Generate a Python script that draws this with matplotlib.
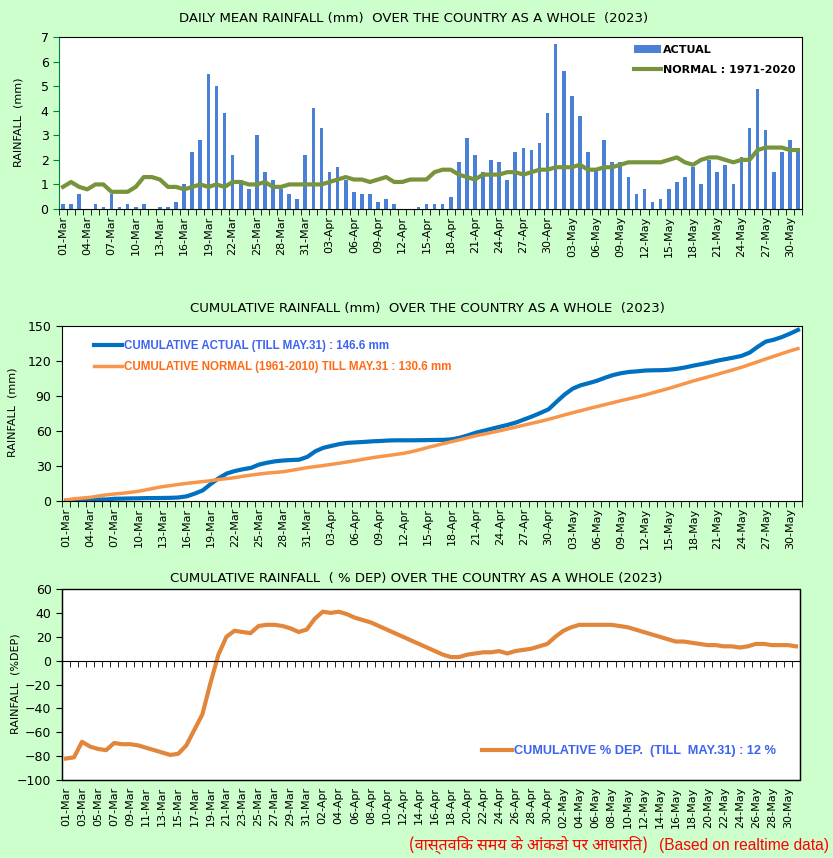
import numpy as np
import pandas as pd
import matplotlib
matplotlib.use("Agg")
import matplotlib.pyplot as plt
from matplotlib.patches import Rectangle

# 01-Mar to 31-May 2023 (92 days)
days = pd.date_range("2023-03-01", "2023-05-31", freq="D").strftime("%d-%b").tolist()

# daily mean rainfall (mm)
actual_daily = [
    0.2, 0.2, 0.6, 0.0, 0.2, 0.1, 0.6, 0.1, 0.2, 0.1,
    0.2, 0.0, 0.1, 0.1, 0.3, 1.0, 2.3, 2.8, 5.5, 5.0,
    3.9, 2.2, 1.2, 0.8, 3.0, 1.5, 1.2, 0.8, 0.6, 0.4, 2.2,
    4.1, 3.3, 1.5, 1.7, 1.2, 0.7, 0.6, 0.6, 0.3, 0.4,
    0.2, 0.0, 0.0, 0.1, 0.2, 0.2, 0.2, 0.5, 1.9, 2.9,
    2.2, 1.5, 2.0, 1.9, 1.2, 2.3, 2.5, 2.4, 2.7, 3.9,
    6.7, 5.6, 4.6, 3.8, 2.3, 1.6, 2.8, 1.9, 1.9, 1.3,
    0.6, 0.8, 0.3, 0.4, 0.8, 1.1, 1.3, 1.7, 1.0, 2.0,
    1.5, 1.8, 1.0, 2.1, 3.3, 4.9, 3.2, 1.5, 2.3, 2.8, 2.5,
]
normal_daily = [
    0.9, 1.1, 0.9, 0.8, 1.0, 1.0, 0.7, 0.7, 0.7, 0.9,
    1.3, 1.3, 1.2, 0.9, 0.9, 0.8, 0.9, 1.0, 0.9, 1.0,
    0.9, 1.1, 1.1, 1.0, 1.0, 1.1, 0.9, 0.9, 1.0, 1.0, 1.0,
    1.0, 1.0, 1.1, 1.2, 1.3, 1.2, 1.2, 1.1, 1.2, 1.3,
    1.1, 1.1, 1.2, 1.2, 1.2, 1.5, 1.6, 1.6, 1.4, 1.3,
    1.2, 1.4, 1.4, 1.4, 1.5, 1.5, 1.4, 1.5, 1.6, 1.6,
    1.7, 1.7, 1.7, 1.8, 1.6, 1.6, 1.7, 1.7, 1.8, 1.9,
    1.9, 1.9, 1.9, 1.9, 2.0, 2.1, 1.9, 1.8, 2.0, 2.1,
    2.1, 2.0, 1.9, 2.0, 2.0, 2.4, 2.5, 2.5, 2.5, 2.4, 2.4,
]

# cumulative rainfall (mm)
cum_actual = [
    0.2, 0.4, 1.0, 1.0, 1.2, 1.3, 1.9, 2.0, 2.2, 2.3,
    2.5, 2.5, 2.6, 2.7, 3.0, 4.0, 6.3, 9.1, 14.6, 19.6,
    23.6, 25.7, 27.2, 28.4, 31.2, 32.8, 34.0, 34.7, 35.1, 35.4, 37.8,
    42.6, 45.6, 47.2, 48.8, 49.8, 50.2, 50.6, 51.1, 51.4, 51.8,
    52.0, 52.0, 52.0, 52.1, 52.2, 52.3, 52.4, 52.9, 54.3, 56.3,
    58.6, 60.3, 62.0, 63.7, 65.4, 67.4, 70.0, 72.6, 75.5, 78.6,
    85.1, 91.3, 96.3, 99.2, 101.0, 103.0, 105.6, 107.9, 109.5, 110.6,
    111.1, 111.8, 112.0, 112.1, 112.5, 113.3, 114.5, 116.0, 117.3, 118.7,
    120.3, 121.6, 122.9, 124.4, 127.2, 132.2, 136.6, 138.2, 140.5, 143.4, 146.6,
]
cum_normal = [
    0.9, 1.9, 2.5, 3.1, 4.2, 5.2, 6.0, 6.6, 7.4, 8.3,
    9.6, 11.0, 12.3, 13.2, 14.2, 15.1, 15.9, 16.6, 17.4, 18.4,
    19.2, 20.0, 21.2, 22.2, 23.1, 23.9, 24.5, 25.1, 26.2, 27.4, 28.6,
    29.5, 30.4, 31.4, 32.4, 33.5, 34.6, 35.8, 37.0, 38.0, 38.9,
    39.9, 40.9, 42.3, 44.0, 45.9, 47.6, 49.3, 50.9, 52.6, 54.3,
    56.0, 57.4, 58.8, 60.3, 61.9, 63.5, 65.1, 66.7, 68.3, 70.0,
    71.9, 73.8, 75.7, 77.4, 79.2, 80.9, 82.6, 84.3, 86.0, 87.6,
    89.2, 90.9, 92.8, 94.7, 96.6, 98.7, 100.8, 102.9, 104.8, 106.7,
    108.6, 110.6, 112.6, 114.6, 117.0, 119.3, 121.7, 124.0, 126.3, 128.6, 130.6,
]

# cumulative % departure
cum_dep = [
    -82, -81, -68, -72, -74, -75, -69, -70, -70, -71,
    -73, -75, -77, -79, -78, -71, -58, -45, -19, 5,
    20, 25, 24, 23, 29, 30, 30, 29, 27, 24, 26,
    35, 41, 40, 41, 39, 36, 34, 32, 29, 26,
    23, 20, 17, 14, 11, 8, 5, 3, 3, 5,
    6, 7, 7, 8, 6, 8, 9, 10, 12, 14,
    20, 25, 28, 30, 30, 30, 30, 30, 29, 28,
    26, 24, 22, 20, 18, 16, 16, 15, 14, 13,
    13, 12, 12, 11, 12, 14, 14, 13, 13, 13, 12,
]

BG = "#ccffcc"
FONT = "DejaVu Sans"
x = np.arange(len(days))

fig = plt.figure(figsize=(8.33, 8.58), dpi=100, facecolor=BG)


def style_x(ax, step):
    ax.set_xlim(-0.5, len(days) - 0.5)
    ax.set_xticks(x[::step])
    ax.set_xticklabels(days[::step], rotation=90, fontsize=8, family=FONT)
    ax.set_xticks(np.arange(-0.5, len(days)), minor=True)
    ax.tick_params(axis="x", which="major", length=0, pad=5)


# ---- daily mean rainfall
ax1 = fig.add_axes([0.0708, 0.7564, 0.892, 0.2005])
bars = ax1.bar(x, actual_daily, width=0.45, color="#4a80d6", label="ACTUAL", zorder=2)
line, = ax1.plot(x, normal_daily, color="#77933c", lw=3, label="NORMAL : 1971-2020", zorder=3)
style_x(ax1, 3)
ax1.tick_params(axis="x", which="minor", length=4, direction="out")
ax1.set_ylim(0, 7)
ax1.set_yticks(range(0, 8))
ax1.spines["left"].set_color("#00803a")
ax1.tick_params(axis="y", colors="#00803a", labelcolor="black", length=4, labelsize=9)
ax1.legend([bars, line], ["ACTUAL", "NORMAL : 1971-2020"],
           loc="center left", bbox_to_anchor=(0.767, 0.866), frameon=False,
           handlelength=2.4, handletextpad=0.2, labelspacing=0.95, borderpad=0,
           prop={"family": FONT, "weight": "bold", "size": 8})
fig.text(0.4964, 0.979, "DAILY MEAN RAINFALL (mm)  OVER THE COUNTRY AS A WHOLE  (2023)",
         ha="center", va="center", fontsize=9.5, family=FONT)
fig.text(0.022, 0.857, "RAINFALL  (mm)", rotation=90, ha="center", va="center",
         fontsize=8, family=FONT)

# ---- cumulative rainfall
ax2 = fig.add_axes([0.0744, 0.4161, 0.8884, 0.204])
ax2.plot(x, cum_actual, color="#0070c0", lw=3,
         label="CUMULATIVE ACTUAL (TILL MAY.31) : 146.6 mm")
ax2.plot(x, cum_normal, color="#f7964a", lw=2.5,
         label="CUMULATIVE NORMAL (1961-2010) TILL MAY.31 : 130.6 mm")
style_x(ax2, 3)
ax2.tick_params(axis="x", which="minor", length=4, direction="out")
ax2.set_ylim(0, 150)
ax2.set_yticks(range(0, 151, 30))
ax2.tick_params(axis="y", length=4, labelsize=9)
leg2 = ax2.legend(loc="upper left", bbox_to_anchor=(0.035, 0.955), frameon=False,
                  handlelength=2.5, handletextpad=0.1, labelspacing=0.85, borderpad=0,
                  prop={"family": "Liberation Sans", "weight": "bold", "size": 8.3})
for t, c in zip(leg2.get_texts(), ["#3d63f0", "#ff6a13"]):
    t.set_color(c)
fig.text(0.5126, 0.641, "CUMULATIVE RAINFALL (mm)  OVER THE COUNTRY AS A WHOLE  (2023)",
         ha="center", va="center", fontsize=9.5, family=FONT)
fig.text(0.015, 0.519, "RAINFALL  (mm)", rotation=90, ha="center", va="center",
         fontsize=8, family=FONT)

# ---- cumulative % departure
ax3 = fig.add_axes([0.0744, 0.0909, 0.886, 0.2226])
ax3.spines["top"].set_position(("data", 0))
ax3.plot(x, cum_dep, color="#e2863c", lw=3,
         label="CUMULATIVE % DEP.  (TILL  MAY.31) : 12 %")
ax3.set_ylim(-100, 60)
style_x(ax3, 2)
ax3.tick_params(axis="x", which="minor", bottom=False, top=True, direction="in", length=4)
ax3.add_patch(Rectangle((0, 0), 1, 1, transform=ax3.transAxes, fill=False,
                        edgecolor="black", lw=1, zorder=5, clip_on=False))
ax3.set_yticks(range(-100, 61, 20))
ax3.tick_params(axis="y", length=4, labelsize=9)
leg3 = ax3.legend(loc="center left", bbox_to_anchor=(0.56, 0.152), frameon=False,
                  handlelength=2.4, handletextpad=0.1, borderpad=0,
                  prop={"family": "Liberation Sans", "weight": "bold", "size": 9.2})
leg3.get_texts()[0].set_color("#3d63f0")
fig.text(0.5, 0.326, "CUMULATIVE RAINFALL  ( % DEP) OVER THE COUNTRY AS A WHOLE (2023)",
         ha="center", va="center", fontsize=9.5, family=FONT)
fig.text(0.019, 0.203, "RAINFALL  (%DEP)", rotation=90, ha="center", va="center",
         fontsize=8, family=FONT)

# footer
fig.text(0.778, 0.015, "(वास्तविक समय के आंकडो पर आधारित)", ha="right", va="center",
         color="red", fontsize=11.5, weight="bold",
         family=["Noto Sans Devanagari", "Lohit Devanagari", "FreeSans", "Noto Sans", "DejaVu Sans"])
fig.text(0.995, 0.015, "(Based on realtime data)", ha="right", va="center",
         color="red", fontsize=11.2, family="Liberation Sans")

fig.savefig("out.png", dpi=100, facecolor=BG)
